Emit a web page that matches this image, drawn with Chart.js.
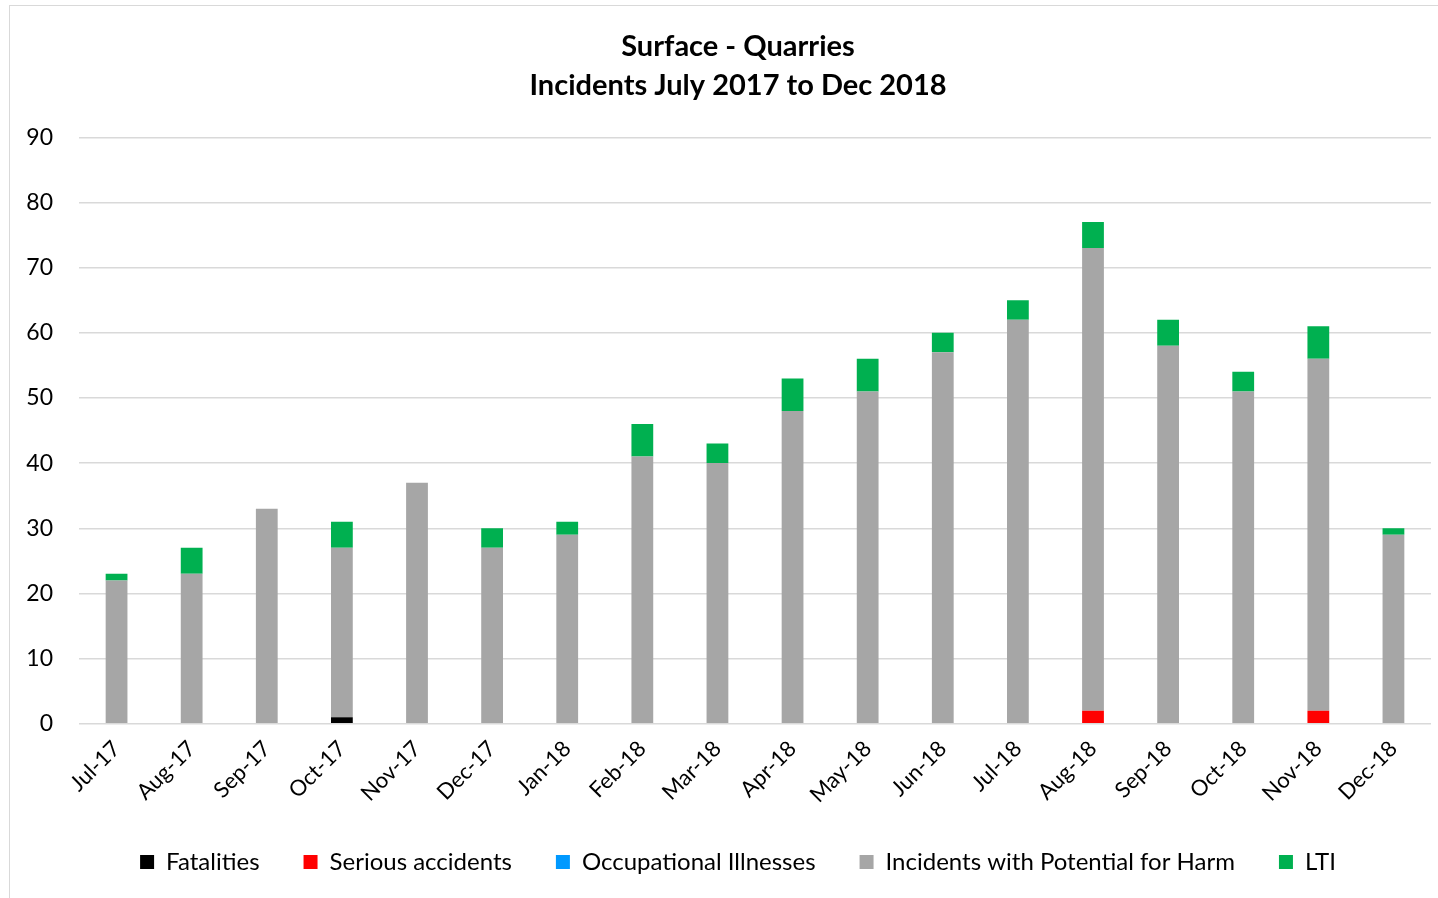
<!DOCTYPE html>
<html>
<head>
<meta charset="utf-8">
<title>Surface - Quarries Incidents</title>
<script src="https://cdn.jsdelivr.net/npm/chart.js@4"></script>
<style>
    html, body { margin: 0; padding: 0; background: #ffffff; overflow: hidden; }
    #frame {
        position: absolute;
        left: 9px;
        top: 5px;
        width: 1460px;
        height: 900px;
        border-left: 1px solid #d9d9d9;
        border-top: 1px solid #d9d9d9;
        background: #ffffff;
    }
    #incidentChart { display: block; }
</style>
</head>
<body>
<div id="frame">
    <canvas id="incidentChart" width="1456" height="893"></canvas>
</div>
<script>
    // chart data
    const months = ["Jul-17", "Aug-17", "Sep-17", "Oct-17", "Nov-17", "Dec-17",
        "Jan-18", "Feb-18", "Mar-18", "Apr-18", "May-18", "Jun-18",
        "Jul-18", "Aug-18", "Sep-18", "Oct-18", "Nov-18", "Dec-18"];
    const fatalities = [0, 0, 0, 1, 0, 0, 0, 0, 0, 0, 0, 0, 0, 0, 0, 0, 0, 0];
    const seriousAccidents = [0, 0, 0, 0, 0, 0, 0, 0, 0, 0, 0, 0, 0, 2, 0, 0, 2, 0];
    const occupationalIllnesses = [0, 0, 0, 0, 0, 0, 0, 0, 0, 0, 0, 0, 0, 0, 0, 0, 0, 0];
    const potentialHarm = [22, 23, 33, 26, 37, 27, 29, 41, 40, 48, 51, 57, 62, 71, 58, 51, 54, 29];
    const lti = [1, 4, 0, 4, 0, 3, 2, 5, 3, 5, 5, 3, 3, 4, 4, 3, 5, 1];
    const yTicks = [0, 10, 20, 30, 40, 50, 60, 70, 80, 90];

    const fontFamily = "Lato, 'Open Sans', 'Liberation Sans', sans-serif";

    function makeSet(label, data, color) {
        return {
            label: label,
            data: data,
            backgroundColor: color,
            borderWidth: 0,
            barPercentage: 0.29,
            categoryPercentage: 1.0
        };
    }

    const ctx = document.getElementById("incidentChart").getContext("2d");
    const incidentChart = new Chart(ctx, {
        type: "bar",
        data: {
            labels: months,
            datasets: [
                makeSet("Fatalities", fatalities, "#000000"),
                makeSet("Serious accidents", seriousAccidents, "#ff0000"),
                makeSet("Occupational Illnesses", occupationalIllnesses, "#0099ff"),
                makeSet("Incidents with Potential for Harm", potentialHarm, "#a6a6a6"),
                makeSet("LTI", lti, "#00b050")
            ]
        },
        options: {
            responsive: false,
            animation: false,
            layout: { padding: { left: 0, right: 0, top: 0, bottom: 15 } },
            plugins: {
                title: {
                    display: true,
                    text: ["Surface - Quarries", "Incidents July 2017 to Dec 2018"],
                    color: "#000000",
                    font: { family: fontFamily, size: 29, weight: "bold", lineHeight: 1.35 },
                    padding: { top: 21, bottom: 32 }
                },
                legend: {
                    position: "bottom",
                    labels: {
                        color: "#000000",
                        font: { family: fontFamily, size: 24 },
                        boxWidth: 14,
                        boxHeight: 14,
                        padding: 44
                    }
                },
                tooltip: { enabled: false }
            },
            scales: {
                x: {
                    stacked: true,
                    grid: { display: false },
                    border: { display: false },
                    afterFit: function (scale) {
                        scale.height -= 6;
                    },
                    ticks: {
                        color: "#000000",
                        font: { family: fontFamily, size: 22 },
                        minRotation: 45,
                        maxRotation: 45,
                        padding: 4
                    }
                },
                y: {
                    stacked: true,
                    min: 0,
                    max: 90,
                    afterBuildTicks: function (scale) {
                        scale.ticks = yTicks.map(v => ({ value: v }));
                    },
                    afterFit: function (scale) {
                        scale.width = 69;
                    },
                    grid: { color: "#d9d9d9", lineWidth: 1.5, drawTicks: false },
                    border: { display: false },
                    ticks: {
                        color: "#000000",
                        font: { family: fontFamily, size: 23 },
                        padding: 26
                    }
                },
                // empty axis on the right, only keeps a margin so title and legend stay centred on the frame
                yRight: {
                    position: "right",
                    display: true,
                    grid: { display: false },
                    border: { display: false },
                    ticks: { display: false },
                    afterFit: function (scale) {
                        scale.width = 35;
                    }
                }
            }
        }
    });
</script>
</body>
</html>
